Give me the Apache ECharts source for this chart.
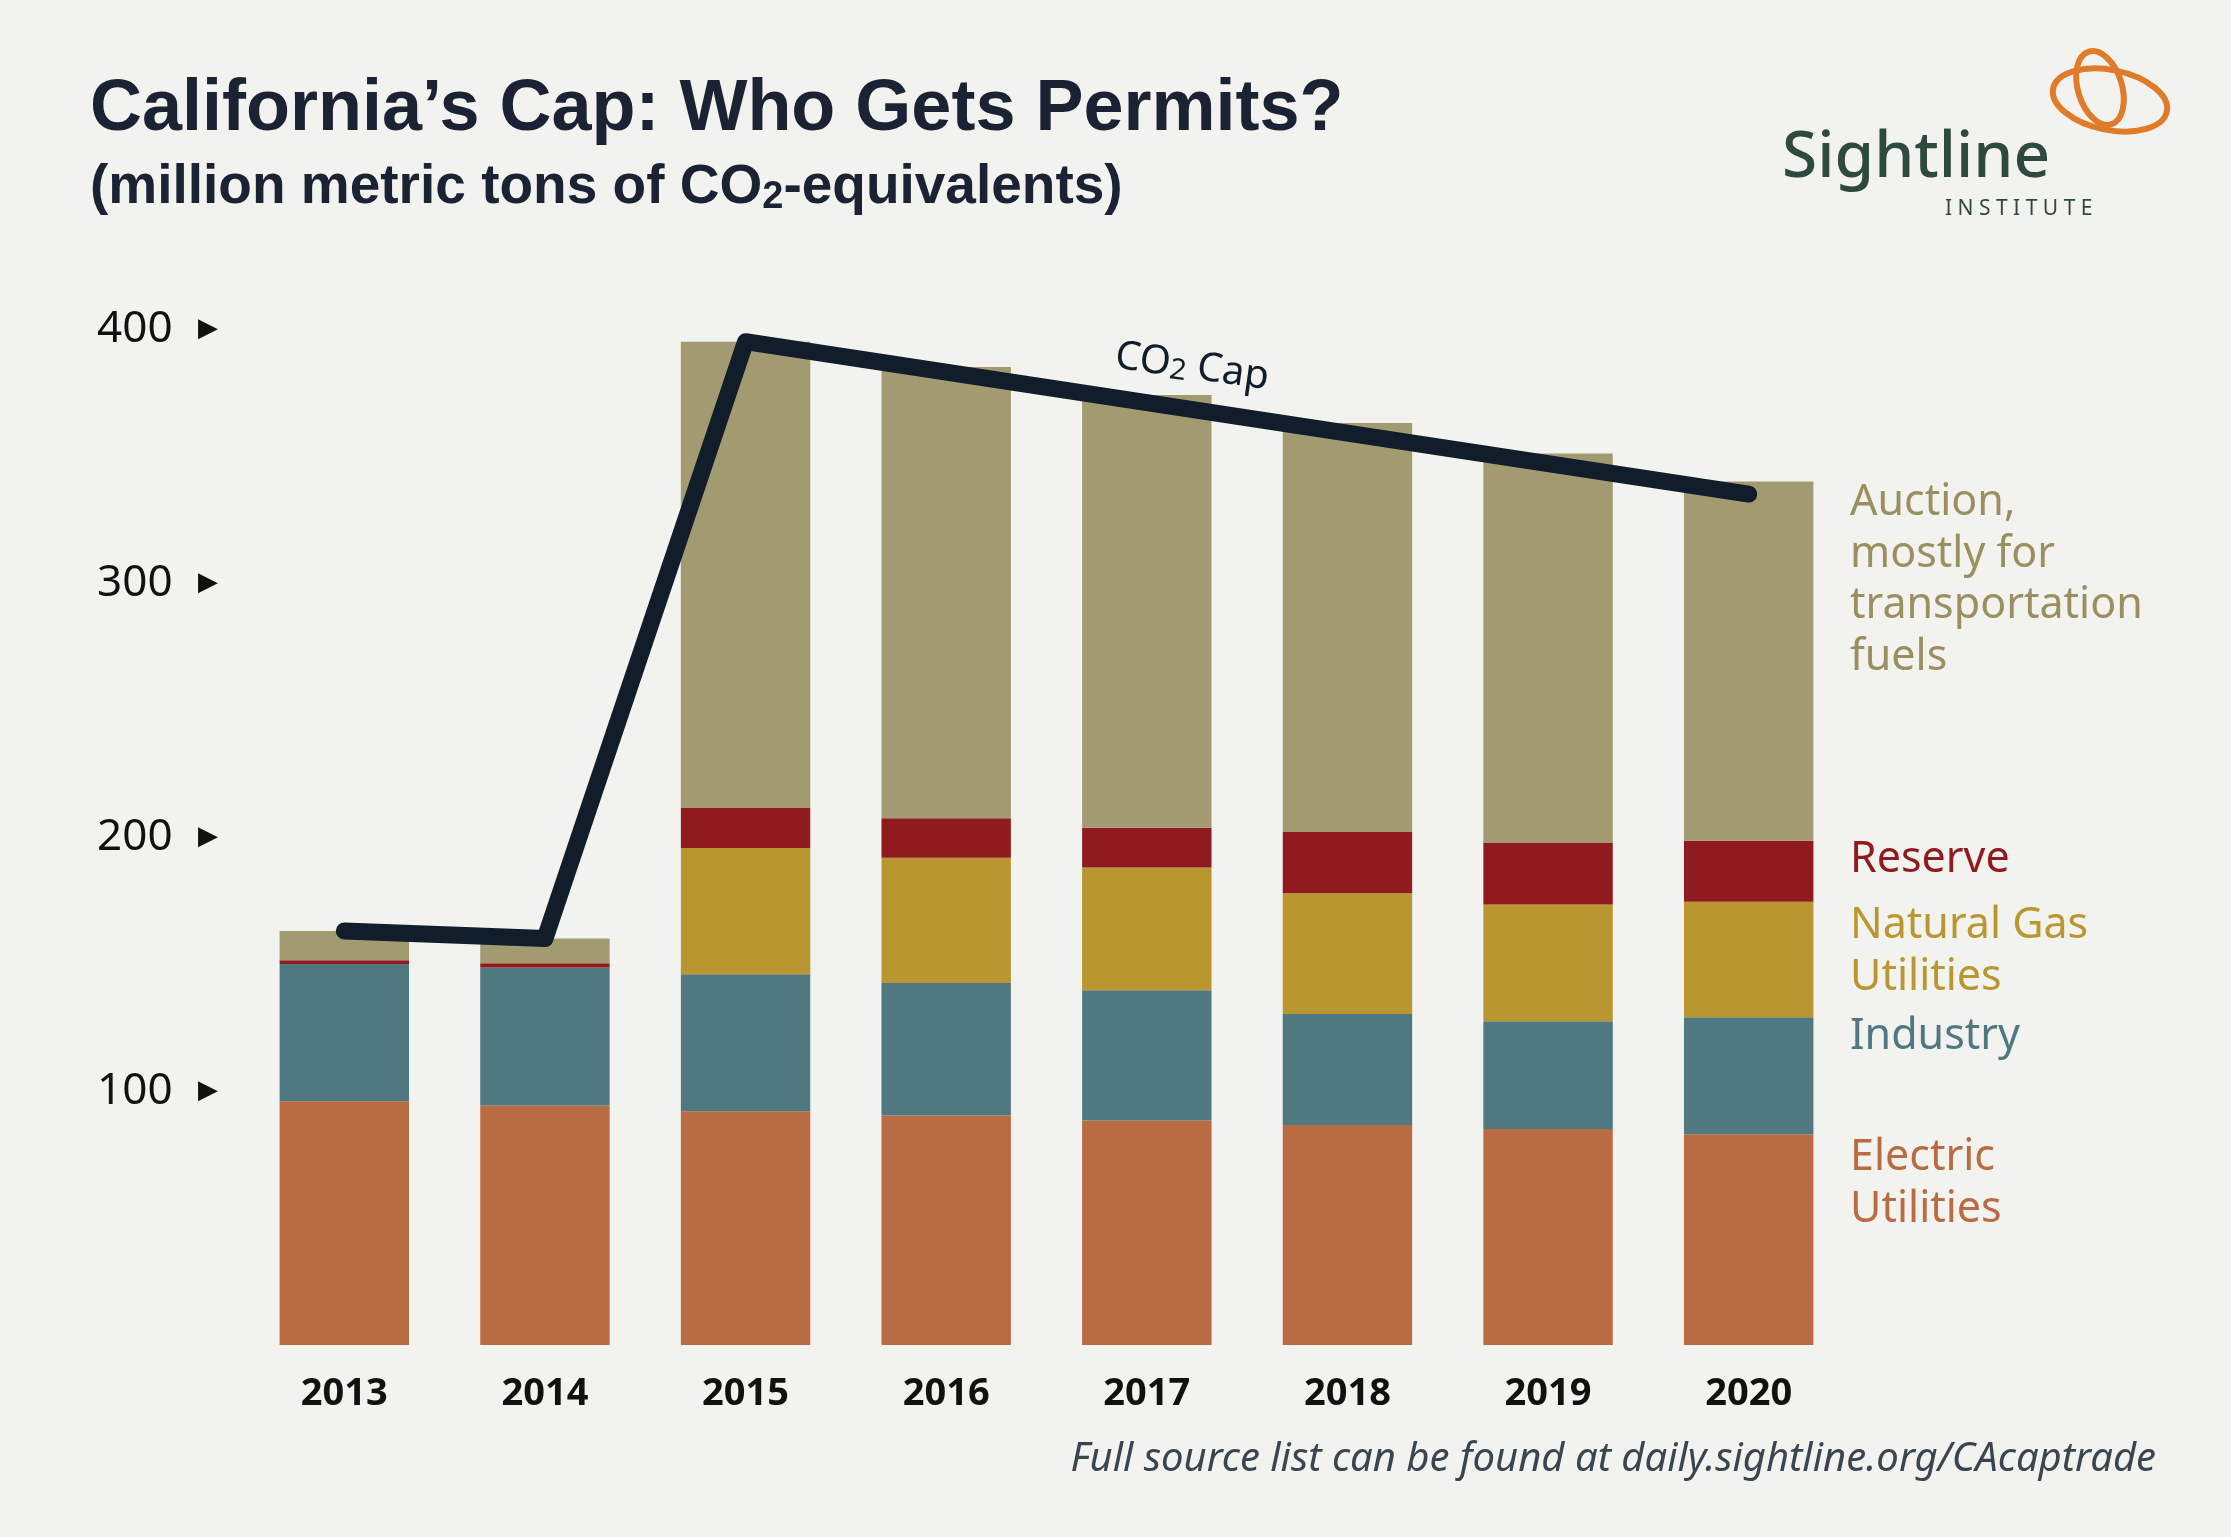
<!DOCTYPE html>
<html><head><meta charset="utf-8">
<script src="https://cdn.jsdelivr.net/npm/echarts@6/dist/echarts.min.js"></script>
<style>html,body{margin:0;padding:0;background:#f2f2ee}#main{width:2231px;height:1537px}</style>
</head><body><div id="main"></div>
<script>
var years = ['2013','2014','2015','2016','2017','2018','2019','2020'];
var electric = [96, 94.3, 92, 90.4, 88.4, 86.6, 85, 83];
var industry = [54, 54.3, 54, 52.1, 51.3, 43.7, 42.5, 46];
var natGas = [0, 0, 49.7, 49.3, 48.3, 47.6, 45.9, 45.5];
var reserve = [1.5, 1.7, 15.7, 15.6, 15.6, 24.1, 24.4, 24];
var auction = [11.5, 9.7, 183.6, 177.6, 170.4, 161, 153.2, 141.5];
var cap = [163, 160, 395, 383, 371, 359, 347, 335];
var yTicks = [100, 200, 300, 400];

var chart = echarts.init(document.getElementById('main'));
function bar(name, data, color) {
  return { name: name, type: 'bar', stack: 'all', data: data, barWidth: '64.5%',
    itemStyle: { color: color }, silent: true };
}
option = {
  backgroundColor: '#f2f2ee',
  animation: false,
  grid: { left: 244, right: 2231 - 1849, top: 329, bottom: 192 },
  xAxis: {
    type: 'category', data: years,
    axisLine: { show: false }, axisTick: { show: false },
    axisLabel: { color: '#111', fontFamily: 'Noto Sans', fontWeight: 'bold', fontSize: 38, margin: 30 }
  },
  yAxis: {
    type: 'value', min: 0, max: 400, interval: 100,
    splitLine: { show: false }, axisLine: { show: false }, axisTick: { show: false },
    axisLabel: {
      color: '#111', fontFamily: 'Noto Sans', fontSize: 44, margin: 26,
      formatter: function (v) { return yTicks.indexOf(v) >= 0 ? v + ' {t|\u25B6}' : ''; },
      rich: { t: { fontSize: 26, color: '#111', padding: [0, 0, 0, 14] } }
    }
  },
  series: [
    bar('Electric Utilities', electric, '#b96b41'),
    bar('Industry', industry, '#4f7880'),
    bar('Natural Gas Utilities', natGas, '#b9962f'),
    bar('Reserve', reserve, '#8f1b1e'),
    bar('Auction', auction, '#a29a71'),
    { name: 'CO2 Cap', type: 'line', data: cap, z: 10, symbol: 'none',
      lineStyle: { color: '#121d2b', width: 17, cap: 'round', join: 'round' } }
  ],
  graphic: [
    { type: 'text', left: 90, top: 74, style: { text: 'California\u2019s Cap: Who Gets Permits?', font: 'bold 72px "Liberation Sans", Arial', fill: '#1b2233' } },
    { type: 'text', left: 90, top: 160, style: { text: '(million metric tons of CO{s|2}-equivalents)', font: 'bold 55px "Liberation Sans", Arial', fill: '#1b2233',
      rich: { s: { font: 'bold 38px "Liberation Sans", Arial', fill: '#1b2233', padding: [20, 0, 0, 0] } } } },
    { type: 'text', x: 1192, y: 367, rotation: -0.14, style: { text: 'CO{s|2} Cap', font: '40px "Noto Sans"', fill: '#121d2b', align: 'center', verticalAlign: 'middle',
      rich: { s: { font: '29px "Noto Sans"', fill: '#121d2b', padding: [12, 0, 0, 0] } } } },
    { type: 'text', left: 1850, top: 477, style: { text: 'Auction,\nmostly for\ntransportation\nfuels', font: '43px "Noto Sans"', lineHeight: 51.5, fill: '#9a8f60' } },
    { type: 'text', left: 1850, top: 838, style: { text: 'Reserve', font: '43px "Noto Sans"', fill: '#8f1b1e' } },
    { type: 'text', left: 1850, top: 900, style: { text: 'Natural Gas\nUtilities', font: '43px "Noto Sans"', lineHeight: 51.5, fill: '#b9962f' } },
    { type: 'text', left: 1850, top: 1015, style: { text: 'Industry', font: '43px "Noto Sans"', fill: '#4f7880' } },
    { type: 'text', left: 1850, top: 1132, style: { text: 'Electric\nUtilities', font: '43px "Noto Sans"', lineHeight: 51.5, fill: '#b96b41' } },
    { type: 'text', right: 75, top: 1440, style: { text: 'Full source list can be found at daily.sightline.org/CAcaptrade', font: 'italic 40px "Noto Sans"', fill: '#3a4550' } },
    { type: 'text', left: 1782, top: 127, style: { text: 'Sightline', font: '500 64px "Noto Sans"', fill: '#2d4a3c' } },
    { type: 'text', left: 1945, top: 199, style: { text: 'I N S T I T U T E', font: '21px "Noto Sans"', fill: '#2d4a3c' } },
    { type: 'ellipse', shape: { cx: 2110, cy: 100, rx: 58, ry: 30 }, rotation: -0.2, originX: 2110, originY: 100, style: { fill: 'none', stroke: '#e07b2a', lineWidth: 6 } },
    { type: 'ellipse', shape: { cx: 2100, cy: 88, rx: 22, ry: 38 }, rotation: 0.3, originX: 2100, originY: 88, style: { fill: 'none', stroke: '#e07b2a', lineWidth: 6 } }
  ]
};
chart.setOption(option);
</script></body></html>
